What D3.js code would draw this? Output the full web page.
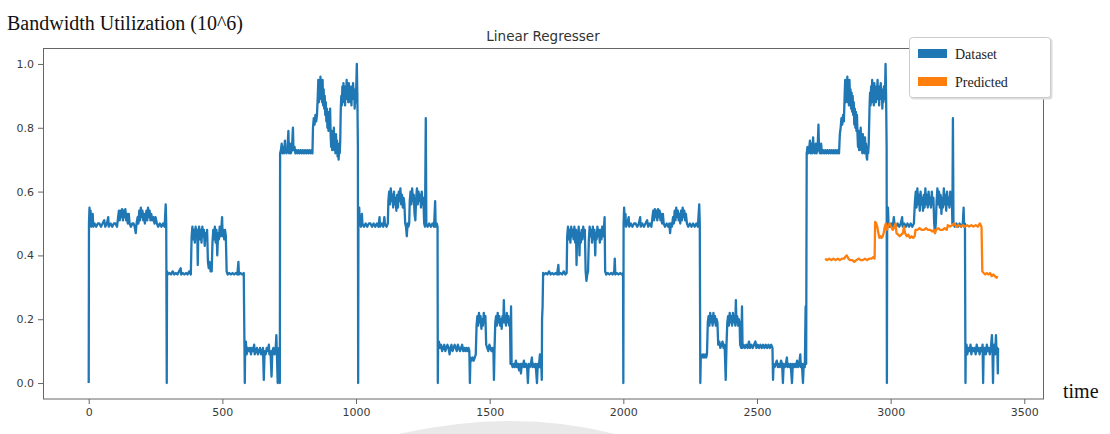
<!DOCTYPE html>
<html>
<head>
<meta charset="utf-8">
<script src="https://cdn.jsdelivr.net/npm/d3@7"></script>
<style>
  body { margin: 0; background: #fff; }
  svg { display: block; }
</style>
</head>
<body>
<script>
// values, [time, utilization]
var segHigh1 = [[0,0],[1,0.50],[3,0.55],[5,0.50],[7,0.54],[9,0.49],[12,0.50],[15,0.53],[17,0.49],[22,0.50],[28,0.49],[34,0.50],[40,0.50],[46,0.49],[52,0.50],[58,0.51],[62,0.49],[68,0.50],[73,0.52],[75,0.49],[82,0.50],[88,0.49],[94,0.50],[100,0.50],[106,0.49],[110,0.52],[113,0.54],[116,0.51],[119,0.54],[122,0.52],[125,0.545],[128,0.51],[131,0.54],[134,0.52],[137,0.545],[140,0.51],[143,0.53],[146,0.50],[150,0.53],[153,0.50],[158,0.49],[163,0.50],[168,0.50],[172,0.49],[176,0.47],[179,0.50],[183,0.52],[186,0.50],[189,0.54],[192,0.51],[195,0.55],[198,0.52],[201,0.54],[204,0.51],[207,0.53],[210,0.50],[213,0.52],[216,0.54],[219,0.51],[222,0.55],[225,0.52],[228,0.54],[231,0.51],[234,0.53],[238,0.51],[242,0.52],[246,0.50],[250,0.52],[255,0.50],[260,0.49],[266,0.50],[272,0.49],[278,0.50],[284,0.49],[288,0.56],[290,0.50],[292,0]];
var segMid1 = [[293,0.35],[296,0.34],[302,0.345],[308,0.34],[314,0.35],[320,0.34],[326,0.345],[332,0.34],[338,0.35],[344,0.36],[346,0.34],[352,0.345],[358,0.34],[364,0.345],[370,0.34],[376,0.35],[382,0.34],[385,0.46],[388,0.49],[391,0.45],[394,0.48],[397,0.44],[400,0.49],[403,0.46],[406,0.48],[408,0.37],[410,0.47],[413,0.49],[416,0.45],[419,0.48],[422,0.44],[425,0.49],[428,0.46],[431,0.48],[434,0.43],[437,0.47],[440,0.45],[443,0.48],[446,0.38],[449,0.36],[452,0.38],[456,0.35],[460,0.35],[463,0.44],[466,0.48],[469,0.45],[472,0.49],[475,0.44],[478,0.48],[481,0.40],[484,0.47],[487,0.45],[490,0.49],[493,0.46],[496,0.48],[499,0.52],[501,0.46],[504,0.48],[507,0.45],[510,0.48],[513,0.46],[516,0.35],[520,0.34],[526,0.345],[532,0.34],[538,0.345],[544,0.34],[550,0.345],[556,0.34],[560,0.38],[562,0.34],[568,0.345],[574,0.34],[580,0.345],[584,0]];
var segLow1 = [[585,0.10],[588,0.13],[591,0.09],[595,0.11],[599,0.10],[603,0.11],[607,0.09],[611,0.11],[615,0.10],[619,0.12],[621,0.09],[625,0.10],[629,0.11],[633,0.09],[637,0.10],[641,0.11],[645,0.09],[649,0.10],[652,0.11],[655,0.01],[658,0.10],[662,0.09],[666,0.11],[670,0.10],[674,0.12],[676,0.09],[680,0.10],[684,0.02],[687,0.10],[691,0.11],[695,0.09],[699,0.10],[702,0.15],[704,0.09],[707,0.0],[709,0.10],[712,0.11],[714,0.09],[715,0]];
var segPeak1 = [[716,0.72],[719,0.73],[722,0.75],[724,0.72],[728,0.74],[731,0.72],[734,0.76],[736,0.73],[740,0.72],[744,0.74],[747,0.79],[749,0.72],[753,0.75],[756,0.72],[760,0.73],[764,0.80],[766,0.73],[770,0.74],[773,0.72],[777,0.73],[781,0.72],[785,0.73],[789,0.72],[793,0.73],[797,0.72],[801,0.73],[805,0.72],[809,0.73],[813,0.72],[817,0.73],[821,0.72],[825,0.73],[829,0.72],[833,0.73],[837,0.72],[839,0.80],[842,0.83],[845,0.81],[848,0.84],[851,0.82],[854,0.84],[857,0.90],[859,0.95],[861,0.88],[863,0.94],[865,0.90],[867,0.96],[869,0.89],[871,0.93],[873,0.88],[875,0.95],[877,0.87],[879,0.92],[881,0.86],[883,0.90],[885,0.84],[887,0.88],[889,0.82],[891,0.86],[893,0.80],[895,0.85],[897,0.79],[899,0.84],[901,0.80],[903,0.86],[905,0.78],[907,0.74],[909,0.79],[911,0.73],[913,0.78],[915,0.74],[917,0.80],[919,0.73],[921,0.77],[923,0.72],[925,0.78],[927,0.74],[929,0.76],[931,0.71],[933,0.75],[935,0.70],[937,0.74],[939,0.72],[941,0.76],[943,0.86],[945,0.90],[947,0.87],[949,0.93],[951,0.88],[953,0.94],[955,0.89],[957,0.92],[959,0.87],[961,0.93],[963,0.90],[965,0.95],[967,0.89],[969,0.92],[971,0.88],[973,0.94],[975,0.90],[977,0.93],[979,0.88],[981,0.92],[983,0.87],[985,0.93],[987,0.89],[989,0.94],[991,0.90],[993,0.92],[995,0.86],[997,0.91],[999,0.88],[1001,0.93],[1003,1.00],[1005,0.90],[1007,0.74],[1008,0]];
var segHigh2 = [[1009,0.50],[1012,0.55],[1014,0.50],[1019,0.49],[1022,0.53],[1024,0.50],[1030,0.49],[1036,0.50],[1042,0.49],[1048,0.50],[1054,0.50],[1060,0.49],[1066,0.50],[1072,0.49],[1078,0.50],[1084,0.49],[1088,0.52],[1090,0.49],[1096,0.50],[1102,0.49],[1106,0.52],[1108,0.50],[1114,0.49],[1119,0.50],[1121,0.57],[1124,0.60],[1127,0.56],[1130,0.61],[1133,0.57],[1136,0.59],[1139,0.55],[1142,0.60],[1145,0.56],[1148,0.58],[1151,0.54],[1154,0.59],[1157,0.55],[1160,0.60],[1163,0.57],[1166,0.61],[1169,0.56],[1172,0.59],[1175,0.55],[1178,0.58],[1181,0.56],[1184,0.50],[1187,0.49],[1190,0.46],[1193,0.50],[1196,0.49],[1199,0.50],[1201,0.57],[1204,0.60],[1207,0.56],[1210,0.61],[1213,0.57],[1216,0.59],[1219,0.53],[1222,0.51],[1225,0.58],[1228,0.61],[1231,0.56],[1234,0.60],[1237,0.57],[1240,0.59],[1243,0.55],[1246,0.60],[1249,0.56],[1252,0.58],[1255,0.50],[1258,0.49],[1261,0.83],[1263,0.50],[1268,0.49],[1274,0.50],[1280,0.49],[1286,0.50],[1292,0.49],[1296,0.57],[1298,0.49],[1302,0.50],[1305,0.49],[1306,0]];
var segLow2 = [[1307,0.11],[1310,0.13],[1314,0.11],[1318,0.12],[1322,0.10],[1326,0.11],[1330,0.12],[1334,0.10],[1338,0.11],[1342,0.12],[1346,0.11],[1350,0.09],[1353,0.11],[1357,0.12],[1361,0.10],[1365,0.11],[1369,0.12],[1373,0.11],[1377,0.10],[1381,0.12],[1385,0.11],[1389,0.10],[1393,0.11],[1397,0.12],[1401,0.10],[1405,0.11],[1409,0.10],[1413,0.11],[1417,0.10],[1421,0.11],[1424,0.10],[1426,0.0],[1428,0.08],[1432,0.07],[1436,0.08],[1440,0.07],[1444,0.08],[1448,0.09],[1451,0.18],[1454,0.21],[1457,0.18],[1460,0.22],[1463,0.19],[1466,0.21],[1469,0.17],[1472,0.20],[1475,0.18],[1478,0.22],[1481,0.19],[1484,0.21],[1487,0.12],[1491,0.11],[1495,0.10],[1499,0.12],[1503,0.11],[1507,0.10],[1511,0.11],[1514,0.10],[1516,0.01],[1518,0.10],[1521,0.19],[1524,0.21],[1527,0.18],[1530,0.22],[1533,0.19],[1536,0.21],[1539,0.18],[1542,0.20],[1545,0.17],[1548,0.21],[1551,0.19],[1553,0.26],[1555,0.19],[1558,0.21],[1561,0.18],[1564,0.22],[1567,0.19],[1570,0.21],[1573,0.18],[1576,0.20],[1578,0.06],[1580,0.24],[1582,0.06],[1586,0.05],[1590,0.06],[1594,0.05],[1598,0.07],[1602,0.05],[1606,0.06],[1610,0.04],[1614,0.06],[1617,0.03],[1620,0.06],[1624,0.05],[1628,0.07],[1632,0.05],[1636,0.06],[1640,0.05],[1643,0.0],[1646,0.06],[1650,0.05],[1654,0.06],[1658,0.08],[1660,0.05],[1664,0.06],[1668,0.05],[1672,0.06],[1677,0.0],[1680,0.06],[1684,0.05],[1688,0.09],[1690,0.05],[1693,0.06],[1695,0.01]];
var segMid2 = [[1696,0.20],[1698,0.24],[1700,0.345],[1704,0.34],[1710,0.345],[1716,0.34],[1722,0.35],[1728,0.34],[1734,0.345],[1740,0.34],[1746,0.345],[1752,0.34],[1757,0.37],[1759,0.34],[1765,0.345],[1771,0.34],[1777,0.35],[1783,0.34],[1788,0.345],[1790,0.46],[1793,0.49],[1796,0.45],[1799,0.48],[1802,0.44],[1805,0.49],[1808,0.46],[1811,0.48],[1814,0.45],[1817,0.49],[1820,0.44],[1823,0.48],[1825,0.37],[1827,0.47],[1830,0.45],[1833,0.49],[1836,0.40],[1838,0.47],[1841,0.44],[1844,0.48],[1847,0.45],[1850,0.49],[1853,0.46],[1856,0.48],[1859,0.35],[1862,0.32],[1865,0.34],[1868,0.35],[1871,0.45],[1874,0.49],[1877,0.46],[1880,0.48],[1883,0.44],[1886,0.49],[1889,0.45],[1892,0.48],[1895,0.40],[1897,0.47],[1900,0.45],[1903,0.49],[1906,0.46],[1909,0.48],[1912,0.44],[1915,0.48],[1918,0.45],[1921,0.49],[1924,0.46],[1927,0.48],[1930,0.52],[1932,0.35],[1936,0.34],[1942,0.345],[1948,0.34],[1954,0.345],[1960,0.34],[1966,0.35],[1968,0.39],[1970,0.34],[1976,0.345],[1982,0.34],[1988,0.345],[1994,0.34],[1999,0.345],[2000,0]];
var segHigh3 = [[2001,0.50],[2003,0.55],[2005,0.50],[2008,0.53],[2010,0.49],[2015,0.50],[2020,0.52],[2022,0.49],[2028,0.50],[2034,0.49],[2040,0.50],[2046,0.50],[2052,0.49],[2058,0.50],[2063,0.52],[2065,0.49],[2071,0.50],[2077,0.49],[2083,0.50],[2089,0.51],[2093,0.49],[2099,0.50],[2105,0.49],[2109,0.52],[2112,0.54],[2115,0.51],[2118,0.545],[2121,0.52],[2124,0.54],[2127,0.51],[2130,0.545],[2133,0.52],[2136,0.54],[2139,0.51],[2142,0.53],[2145,0.50],[2148,0.53],[2151,0.50],[2156,0.49],[2162,0.50],[2168,0.49],[2172,0.50],[2175,0.47],[2178,0.50],[2182,0.49],[2186,0.52],[2189,0.50],[2192,0.54],[2195,0.51],[2198,0.55],[2201,0.52],[2204,0.54],[2207,0.51],[2210,0.53],[2213,0.50],[2216,0.54],[2219,0.51],[2222,0.55],[2225,0.52],[2228,0.54],[2231,0.51],[2234,0.53],[2238,0.50],[2243,0.49],[2249,0.50],[2255,0.49],[2261,0.50],[2267,0.49],[2273,0.50],[2279,0.49],[2284,0.56],[2286,0.50],[2288,0]];
var segLow3 = [[2290,0.09],[2294,0.08],[2298,0.09],[2302,0.08],[2306,0.09],[2310,0.08],[2313,0.09],[2316,0.19],[2319,0.21],[2322,0.18],[2325,0.22],[2328,0.19],[2331,0.21],[2334,0.18],[2337,0.22],[2340,0.19],[2343,0.21],[2346,0.18],[2349,0.20],[2352,0.19],[2355,0.12],[2359,0.13],[2363,0.11],[2367,0.12],[2371,0.13],[2375,0.11],[2379,0.12],[2383,0.01],[2386,0.12],[2389,0.19],[2392,0.21],[2395,0.18],[2398,0.22],[2401,0.19],[2404,0.21],[2407,0.18],[2410,0.22],[2413,0.19],[2416,0.21],[2419,0.18],[2421,0.26],[2423,0.19],[2426,0.21],[2429,0.18],[2432,0.20],[2435,0.19],[2437,0.12],[2441,0.11],[2444,0.24],[2446,0.11],[2450,0.12],[2455,0.11],[2460,0.12],[2465,0.11],[2470,0.13],[2474,0.11],[2479,0.12],[2484,0.11],[2489,0.12],[2494,0.13],[2498,0.11],[2503,0.12],[2508,0.11],[2513,0.12],[2518,0.11],[2523,0.12],[2528,0.11],[2533,0.12],[2538,0.11],[2543,0.12],[2548,0.11],[2553,0.12],[2558,0.11],[2560,0.01],[2562,0.06],[2566,0.05],[2570,0.06],[2574,0.07],[2578,0.05],[2582,0.06],[2586,0.05],[2590,0.07],[2594,0.06],[2597,0.0],[2600,0.06],[2604,0.05],[2608,0.06],[2612,0.08],[2614,0.05],[2618,0.06],[2622,0.05],[2626,0.06],[2631,0.0],[2634,0.06],[2638,0.05],[2642,0.06],[2646,0.05],[2650,0.07],[2654,0.05],[2658,0.06],[2662,0.09],[2664,0.05],[2668,0.06],[2672,0.0],[2675,0.06],[2679,0.05],[2682,0.24],[2684,0.06]];
var segPeak2 = [[2686,0.72],[2689,0.74],[2692,0.72],[2695,0.73],[2698,0.76],[2700,0.72],[2704,0.75],[2707,0.72],[2710,0.77],[2712,0.73],[2716,0.72],[2720,0.75],[2723,0.72],[2727,0.74],[2730,0.81],[2732,0.73],[2736,0.72],[2740,0.75],[2743,0.72],[2747,0.73],[2751,0.72],[2755,0.73],[2759,0.72],[2763,0.73],[2767,0.72],[2771,0.73],[2775,0.72],[2779,0.73],[2783,0.72],[2787,0.73],[2791,0.72],[2795,0.73],[2799,0.72],[2803,0.73],[2807,0.72],[2810,0.78],[2813,0.80],[2816,0.83],[2819,0.81],[2822,0.84],[2825,0.82],[2828,0.90],[2830,0.95],[2832,0.88],[2834,0.94],[2836,0.89],[2838,0.96],[2840,0.88],[2842,0.93],[2844,0.87],[2846,0.95],[2848,0.89],[2850,0.92],[2852,0.86],[2854,0.91],[2856,0.85],[2858,0.90],[2860,0.84],[2862,0.88],[2864,0.81],[2866,0.86],[2868,0.80],[2870,0.85],[2872,0.79],[2874,0.84],[2876,0.78],[2878,0.74],[2880,0.79],[2882,0.73],[2884,0.78],[2886,0.74],[2888,0.80],[2890,0.73],[2892,0.77],[2894,0.72],[2896,0.78],[2898,0.74],[2900,0.76],[2902,0.72],[2904,0.77],[2906,0.73],[2908,0.75],[2910,0.71],[2912,0.70],[2914,0.74],[2916,0.72],[2918,0.75],[2921,0.86],[2923,0.91],[2925,0.87],[2927,0.93],[2929,0.88],[2931,0.95],[2933,0.89],[2935,0.92],[2937,0.87],[2939,0.94],[2941,0.90],[2943,0.93],[2945,0.88],[2947,0.92],[2949,0.89],[2951,0.95],[2953,0.90],[2955,0.93],[2957,0.87],[2959,0.92],[2961,0.89],[2963,0.94],[2965,0.90],[2967,0.92],[2969,0.86],[2971,0.91],[2973,0.88],[2975,0.93],[2977,0.89],[2979,0.91],[2981,1.00],[2983,0.90],[2985,0.74],[2986,0]];
var segHigh4 = [[2987,0.50],[2990,0.55],[2992,0.50],[2997,0.49],[3002,0.50],[3008,0.49],[3012,0.52],[3014,0.50],[3020,0.49],[3026,0.50],[3032,0.49],[3038,0.50],[3043,0.52],[3045,0.49],[3051,0.50],[3057,0.49],[3063,0.50],[3069,0.49],[3075,0.50],[3081,0.49],[3087,0.50],[3091,0.57],[3094,0.60],[3097,0.55],[3100,0.61],[3103,0.56],[3106,0.59],[3109,0.54],[3112,0.60],[3115,0.56],[3118,0.58],[3121,0.54],[3124,0.59],[3127,0.55],[3130,0.61],[3133,0.56],[3136,0.59],[3139,0.55],[3142,0.60],[3145,0.56],[3148,0.58],[3151,0.55],[3154,0.60],[3157,0.56],[3160,0.58],[3163,0.50],[3166,0.47],[3169,0.50],[3172,0.57],[3175,0.61],[3178,0.56],[3181,0.60],[3184,0.55],[3187,0.59],[3190,0.53],[3193,0.58],[3196,0.55],[3199,0.61],[3202,0.56],[3205,0.59],[3208,0.54],[3211,0.60],[3214,0.56],[3217,0.58],[3220,0.55],[3223,0.60],[3226,0.56],[3229,0.58],[3231,0.50],[3233,0.83],[3235,0.50],[3240,0.49],[3246,0.50],[3252,0.49],[3258,0.50],[3264,0.49],[3270,0.50],[3273,0.55],[3275,0.49],[3278,0.50],[3280,0]];
var segLow4 = [[3281,0.10],[3284,0.12],[3287,0.09],[3291,0.11],[3295,0.10],[3299,0.12],[3302,0.09],[3306,0.11],[3310,0.10],[3314,0.11],[3318,0.09],[3322,0.12],[3325,0.10],[3329,0.11],[3333,0.09],[3337,0.11],[3341,0.10],[3344,0.12],[3346,0.0],[3348,0.10],[3352,0.11],[3356,0.09],[3360,0.12],[3363,0.10],[3367,0.11],[3371,0.09],[3375,0.11],[3379,0.15],[3381,0.10],[3383,0.0],[3385,0.10],[3388,0.12],[3391,0.09],[3394,0.15],[3396,0.10],[3399,0.11],[3401,0.03],[3402,0.11]];

var predicted = [[2755,0.39],[2762,0.385],[2770,0.39],[2778,0.385],[2786,0.39],[2794,0.385],[2802,0.39],[2810,0.385],[2818,0.39],[2826,0.39],[2830,0.395],[2836,0.40],[2842,0.39],[2848,0.385],[2856,0.385],[2864,0.38],[2872,0.385],[2880,0.39],[2888,0.385],[2896,0.385],[2904,0.39],[2912,0.385],[2920,0.39],[2928,0.39],[2936,0.395],[2940,0.39],[2942,0.505],[2946,0.50],[2950,0.49],[2954,0.47],[2958,0.455],[2962,0.46],[2966,0.455],[2970,0.46],[2974,0.47],[2978,0.49],[2982,0.50],[2986,0.48],[2990,0.49],[2996,0.50],[3002,0.49],[3008,0.48],[3014,0.49],[3018,0.50],[3022,0.47],[3028,0.465],[3034,0.46],[3040,0.465],[3046,0.47],[3050,0.49],[3054,0.47],[3060,0.46],[3066,0.465],[3072,0.455],[3078,0.46],[3084,0.455],[3090,0.46],[3093,0.48],[3100,0.48],[3108,0.485],[3116,0.48],[3124,0.48],[3132,0.485],[3140,0.48],[3148,0.48],[3156,0.475],[3162,0.48],[3166,0.47],[3170,0.48],[3178,0.485],[3186,0.48],[3194,0.48],[3202,0.485],[3210,0.48],[3214,0.495],[3222,0.49],[3230,0.495],[3238,0.50],[3246,0.49],[3254,0.495],[3262,0.49],[3270,0.495],[3278,0.49],[3286,0.495],[3294,0.49],[3302,0.495],[3310,0.49],[3318,0.495],[3326,0.49],[3334,0.50],[3340,0.49],[3343,0.35],[3348,0.345],[3354,0.34],[3360,0.345],[3366,0.34],[3372,0.345],[3378,0.335],[3384,0.34],[3390,0.335],[3396,0.33],[3400,0.335]];

var dataset = [].concat(segHigh1, segMid1, segLow1, segPeak1, segHigh2, segLow2, segMid2,
  segHigh3, segLow3, segPeak2, segHigh4, segLow4);

var xTicks = [0, 500, 1000, 1500, 2000, 2500, 3000, 3500];
var yTicks = [0, 0.2, 0.4, 0.6, 0.8, 1.0];
var seriesNames = ["Dataset", "Predicted"];
var seriesColors = ["#1f77b4", "#ff7f0e"];

var W = 1110, H = 434;
var svg = d3.select("body").append("svg")
  .attr("width", W)
  .attr("height", H);

// faint page shadow at the bottom of the scan
svg.append("path")
  .attr("d", "M398,434 Q515,408 615,434 Z")
  .attr("fill", "#e9e9e9");

var x = d3.scaleLinear().domain([-171, 3570]).range([43, 1043]);
var y = d3.scaleLinear().domain([-0.05, 1.05]).range([399, 48]);

var line = d3.line()
  .x(function(d) { return x(d[0]); })
  .y(function(d) { return y(d[1]); });

var plot = svg.append("g");

plot.append("path")
  .datum(dataset)
  .attr("fill", "none")
  .attr("stroke", seriesColors[0])
  .attr("stroke-width", 2.3)
  .attr("stroke-linejoin", "round")
  .attr("d", line);

plot.append("path")
  .datum(predicted)
  .attr("fill", "none")
  .attr("stroke", seriesColors[1])
  .attr("stroke-width", 2.3)
  .attr("stroke-linejoin", "round")
  .attr("d", line);

// frame
svg.append("rect")
  .attr("x", 43.5).attr("y", 48.5)
  .attr("width", 1000).attr("height", 350.5)
  .attr("fill", "none")
  .attr("stroke", "#666")
  .attr("stroke-width", 1);

var xAxis = svg.append("g")
  .attr("transform", "translate(0,399)")
  .call(d3.axisBottom(x).tickValues(xTicks).tickSize(5).tickPadding(4).tickFormat(d3.format("d")));
var yAxis = svg.append("g")
  .attr("transform", "translate(43,0)")
  .call(d3.axisLeft(y).tickValues(yTicks).tickSize(5).tickPadding(4).tickFormat(d3.format(".1f")));

[xAxis, yAxis].forEach(function(a) {
  a.select(".domain").remove();
  a.selectAll(".tick line").attr("stroke", "#666");
  a.selectAll(".tick text")
    .attr("fill", "#3a3a3a")
    .style("font-family", "DejaVu Sans, sans-serif")
    .style("font-size", "11px");
});

svg.append("text")
  .attr("x", 543).attr("y", 41)
  .attr("text-anchor", "middle")
  .style("font-family", "DejaVu Sans, sans-serif")
  .style("font-size", "13.5px")
  .attr("fill", "#333")
  .text("Linear Regresser");

svg.append("text")
  .attr("x", 7).attr("y", 30)
  .style("font-family", "Liberation Serif, serif")
  .style("font-size", "20px")
  .attr("fill", "#111")
  .text("Bandwidth Utilization (10^6)");

svg.append("text")
  .attr("x", 1063).attr("y", 398)
  .style("font-family", "Liberation Serif, serif")
  .style("font-size", "20px")
  .attr("fill", "#111")
  .text("time");

// legend
var legend = svg.append("g").attr("transform", "translate(909,37)");
legend.append("rect")
  .attr("x", 1.5).attr("y", 1.5)
  .attr("width", 142).attr("height", 61).attr("rx", 3)
  .attr("fill", "#ddd");
legend.append("rect")
  .attr("x", 0.5).attr("y", 0.5)
  .attr("width", 141).attr("height", 60).attr("rx", 3)
  .attr("fill", "#fff")
  .attr("stroke", "#ccc");

var items = legend.selectAll("g.item")
  .data(seriesNames)
  .enter().append("g")
  .attr("class", "item")
  .attr("transform", function(d, i) { return "translate(0," + (12 + i * 28) + ")"; });
items.append("rect")
  .attr("x", 9).attr("width", 29).attr("height", 9)
  .attr("fill", function(d, i) { return seriesColors[i]; });
items.append("text")
  .attr("x", 46).attr("y", 10)
  .style("font-family", "Liberation Serif, serif")
  .style("font-size", "14px")
  .attr("fill", "#222")
  .text(function(d) { return d; });
</script>
</body>
</html>
